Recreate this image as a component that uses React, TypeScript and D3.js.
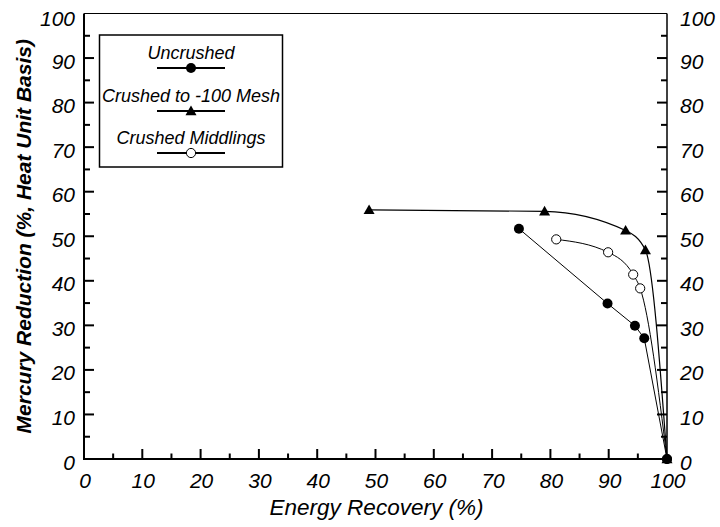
import React from "react";
import * as d3 from "d3";

// Energy recovery (%) vs. mercury reduction (%, heat unit basis)
const uncrushedX = [74.6, 89.8, 94.5, 96.1, 100];
const uncrushedY = [51.7, 34.9, 29.9, 27.1, 0];

const meshX = [48.9, 79.0, 92.9, 96.3, 100];
const meshY = [55.9, 55.6, 51.3, 46.9, 0];

const middlingsX = [81.0, 89.9, 94.2, 95.4, 100];
const middlingsY = [49.3, 46.4, 41.4, 38.3, 0];

const seriesNames = ["Uncrushed", "Crushed to -100 Mesh", "Crushed Middlings"];
const majorTicks = [0, 10, 20, 30, 40, 50, 60, 70, 80, 90, 100];
const minorTicks = [5, 15, 25, 35, 45, 55, 65, 75, 85, 95];

const W = 720;
const H = 527;
const left = 84;
const right = 667;
const top = 13.5;
const bottom = 459;

const font = "'Liberation Sans', Arial, Helvetica, sans-serif";

type Pt = [number, number];
const zip = (xs: number[], ys: number[]): Pt[] => xs.map((x, i) => [x, ys[i]]);

function Marker({ kind, x, y }: { kind: string; x: number; y: number }) {
  if (kind === "filled") return <circle cx={x} cy={y} r={5} fill="#000" />;
  if (kind === "open")
    return <circle cx={x} cy={y} r={4.6} fill="#fff" stroke="#000" strokeWidth={1} />;
  const s = 5.5;
  return (
    <path
      d={`M${x},${y - s}L${x + s},${y + s * 0.75}L${x - s},${y + s * 0.75}Z`}
      fill="#000"
    />
  );
}

export default function App() {
  const x = d3.scaleLinear().domain([0, 100]).range([left, right]);
  const y = d3.scaleLinear().domain([0, 100]).range([bottom, top]);

  const straight = d3
    .line<Pt>()
    .x((d) => x(d[0]))
    .y((d) => y(d[1]));
  const smooth = d3
    .line<Pt>()
    .x((d) => x(d[0]))
    .y((d) => y(d[1]))
    .curve(d3.curveMonotoneX);

  const uncrushed = zip(uncrushedX, uncrushedY);
  const mesh = zip(meshX, meshY);
  const middlings = zip(middlingsX, middlingsY);

  const tickFont = { fontFamily: font, fontStyle: "italic", fontSize: 21 } as const;
  const labelDy = (t: number) => (t === 100 ? 12.5 : 10.5);

  const legendRows = [
    { name: seriesNames[0], kind: "filled", textY: 59, lineY: 68 },
    { name: seriesNames[1], kind: "triangle", textY: 102, lineY: 111 },
    { name: seriesNames[2], kind: "open", textY: 144, lineY: 153 },
  ];

  return (
    <svg
      width={W}
      height={H}
      style={{ position: "absolute", left: 0, top: 0, background: "#fff" }}
    >
      <rect x={0} y={0} width={W} height={H} fill="#fff" />

      {/* frame */}
      <line x1={left} x2={right} y1={top} y2={top} stroke="#000" strokeWidth={1} />
      <line x1={right} x2={right} y1={top} y2={bottom} stroke="#000" strokeWidth={1.5} />
      <line x1={left} x2={left} y1={top} y2={bottom} stroke="#000" strokeWidth={2} />
      <line x1={left - 1} x2={right} y1={bottom} y2={bottom} stroke="#000" strokeWidth={2} />

      {/* ticks */}
      {majorTicks.map((t) => (
        <g key={"M" + t}>
          {t > 0 && t < 100 && (
            <line x1={x(t)} x2={x(t)} y1={bottom} y2={bottom - 10} stroke="#000" strokeWidth={2} />
          )}
          {t > 0 && t < 100 && (
            <line x1={left} x2={left + 10} y1={y(t)} y2={y(t)} stroke="#000" strokeWidth={2} />
          )}
          {t > 0 && t < 100 && (
            <line x1={right} x2={right - 10} y1={y(t)} y2={y(t)} stroke="#000" strokeWidth={2} />
          )}
          <text x={x(t) + 1} y={488} textAnchor="middle" {...tickFont}>
            {t}
          </text>
          <text x={75} y={y(t) + labelDy(t)} textAnchor="end" {...tickFont}>
            {t}
          </text>
          <text x={680} y={y(t) + labelDy(t)} textAnchor="start" {...tickFont}>
            {t}
          </text>
        </g>
      ))}
      {minorTicks.map((t) => (
        <g key={"m" + t}>
          <line x1={x(t)} x2={x(t)} y1={bottom} y2={bottom - 5.5} stroke="#000" strokeWidth={2} />
          <line x1={left} x2={left + 6} y1={y(t)} y2={y(t)} stroke="#000" strokeWidth={2} />
          <line x1={right} x2={right - 6} y1={y(t)} y2={y(t)} stroke="#000" strokeWidth={2} />
        </g>
      ))}

      {/* axis titles */}
      <text
        x={(left + right) / 2 + 1}
        y={515}
        textAnchor="middle"
        fontFamily={font}
        fontStyle="italic"
        fontSize={22.5}
      >
        Energy Recovery (%)
      </text>
      <text
        transform={`translate(31, ${(top + bottom) / 2}) rotate(-90)`}
        textAnchor="middle"
        fontFamily={font}
        fontStyle="italic"
        fontWeight="bold"
        fontSize={21}
      >
        Mercury Reduction (%, Heat Unit Basis)
      </text>

      {/* series lines */}
      <path d={straight(uncrushed) || ""} fill="none" stroke="#000" strokeWidth={1} />
      <path d={smooth(mesh) || ""} fill="none" stroke="#000" strokeWidth={1.2} />
      <path d={smooth(middlings) || ""} fill="none" stroke="#000" strokeWidth={1} />

      {/* markers */}
      {middlings.map((d, i) => (
        <Marker key={"o" + i} kind="open" x={x(d[0])} y={y(d[1])} />
      ))}
      {mesh.map((d, i) => (
        <Marker key={"t" + i} kind="triangle" x={x(d[0])} y={y(d[1])} />
      ))}
      {uncrushed.map((d, i) => (
        <Marker key={"f" + i} kind="filled" x={x(d[0])} y={y(d[1])} />
      ))}

      {/* legend */}
      <rect x={99.5} y={35} width={183} height={132} fill="#fff" stroke="#000" strokeWidth={1.5} />
      {legendRows.map((r) => (
        <g key={r.name}>
          <text
            x={191}
            y={r.textY}
            textAnchor="middle"
            fontFamily={font}
            fontStyle="italic"
            fontSize={18}
          >
            {r.name}
          </text>
          <line x1={157} x2={225} y1={r.lineY} y2={r.lineY} stroke="#000" strokeWidth={2} />
          <Marker kind={r.kind} x={191} y={r.lineY} />
        </g>
      ))}
    </svg>
  );
}
